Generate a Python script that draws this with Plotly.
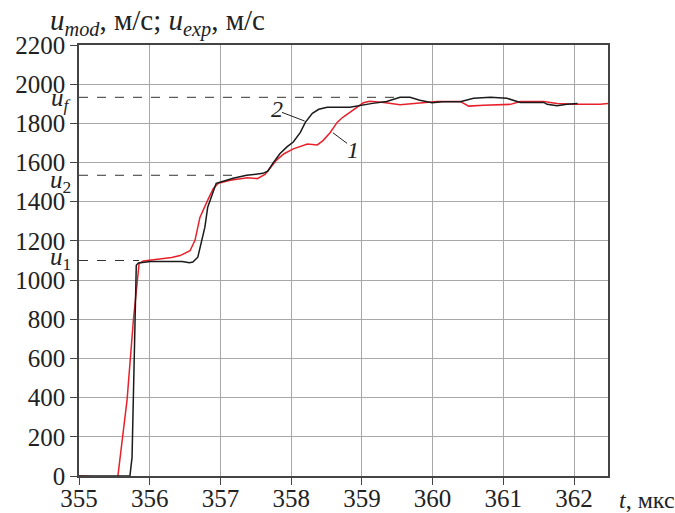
import plotly.graph_objects as go

# Model (curve 1, red)
red_t = [355.0, 355.52, 355.55, 355.68, 355.77, 355.85, 355.91, 356.11, 356.31, 356.43,
         356.57, 356.64, 356.71, 356.82, 356.90, 356.97, 357.14, 357.38, 357.52, 357.63,
         357.73, 357.80, 357.90, 358.03, 358.23, 358.37, 358.45, 358.55, 358.65, 358.73,
         358.83, 358.93, 359.02, 359.11, 359.31, 359.54, 359.68, 359.87, 360.06, 360.39,
         360.51, 360.72, 361.10, 361.24, 361.57, 361.76, 361.99, 362.37, 362.48]
red_u = [0, -10, 0, 390, 800, 1085, 1098, 1105, 1115, 1125,
         1150, 1203, 1320, 1408, 1468, 1494, 1510, 1522, 1518, 1540,
         1582, 1615, 1645, 1670, 1695, 1690, 1712, 1752, 1805, 1831,
         1856, 1882, 1905, 1913, 1907, 1895, 1900, 1908, 1912, 1912,
         1888, 1892, 1897, 1912, 1912, 1902, 1897, 1897, 1902]

# Experiment (curve 2, black)
black_t = [355.0, 355.72, 355.75, 355.77, 355.80, 355.81, 355.84, 356.01, 356.31, 356.46,
           356.56, 356.61, 356.68, 356.73, 356.78, 356.82, 356.89, 356.94, 357.04, 357.18,
           357.37, 357.60, 357.67, 357.74, 357.84, 357.94, 358.03, 358.13, 358.20, 358.30,
           358.39, 358.51, 358.83, 358.97, 359.15, 359.35, 359.54, 359.68, 359.82, 359.99,
           360.14, 360.39, 360.58, 360.82, 361.05, 361.24, 361.57, 361.62, 361.76, 361.90,
           361.99, 362.05]
black_u = [0, 0, 95, 423, 796, 1076, 1087, 1095, 1095, 1095,
           1088, 1092, 1117, 1188, 1270, 1372, 1443, 1494, 1505, 1520,
           1535, 1545, 1556, 1596, 1645, 1680, 1705, 1754, 1805, 1851,
           1872, 1882, 1882, 1892, 1902, 1912, 1933, 1933, 1918, 1905,
           1910, 1910, 1928, 1933, 1928, 1907, 1907, 1897, 1890, 1897,
           1902, 1902]

# Reference levels u1, u2, uf
level_names = ["<i>u</i><sub>1</sub>", "<i>u</i><sub>2</sub>", "<i>u</i><sub><i>f</i></sub>"]
level_vals = [1100, 1535, 1933]
level_ends = [355.85, 357.18, 359.50]
label_shift = [2, -6, -2]   # vertical nudges of the level labels, px

x_ticks = [355, 356, 357, 358, 359, 360, 361, 362]
y_ticks = list(range(0, 2201, 200))

FONT = "Liberation Serif"
TXT = "#222222"

fig = go.Figure()

for v, e in zip(level_vals, level_ends):
    fig.add_trace(go.Scatter(x=[355.0, e], y=[v, v], mode="lines",
                             line=dict(color="#333333", width=1, dash="dash"),
                             showlegend=False, hoverinfo="skip"))

fig.add_trace(go.Scatter(x=red_t, y=red_u, mode="lines",
                         line=dict(color="#e8202a", width=1.5), showlegend=False))
fig.add_trace(go.Scatter(x=black_t, y=black_u, mode="lines",
                         line=dict(color="#1a1a1a", width=1.5), showlegend=False))

# curve labels with leader lines
fig.add_shape(type="line", x0=357.87, y0=1856, x1=358.19, y1=1812,
              line=dict(color="#222", width=1))
fig.add_shape(type="line", x0=358.79, y0=1698, x1=358.59, y1=1752,
              line=dict(color="#222", width=1))
fig.add_annotation(x=357.80, y=1872, text="<i>2</i>", showarrow=False,
                   font=dict(family=FONT, size=24, color=TXT))
fig.add_annotation(x=358.88, y=1665, text="<i>1</i>", showarrow=False,
                   font=dict(family=FONT, size=24, color=TXT))

for name, v, s in zip(level_names, level_vals, label_shift):
    fig.add_annotation(x=0, xref="paper", y=v, yref="y", text=name, showarrow=False,
                       xanchor="right", yanchor="middle", xshift=-6, yshift=s,
                       font=dict(family=FONT, size=25, color=TXT))

fig.add_annotation(x=0, xref="paper", y=1, yref="paper",
                   text="<i>u</i><sub><i>mod</i></sub>, м/с; <i>u</i><sub><i>exp</i></sub>, м/с",
                   showarrow=False, xanchor="left", yanchor="bottom", xshift=-31, yshift=2,
                   font=dict(family=FONT, size=29, color=TXT))
fig.add_annotation(x=1, xref="paper", y=0, yref="paper",
                   text="<i>t</i>, мкс", showarrow=False, xanchor="left", yanchor="top",
                   xshift=9, yshift=-9, font=dict(family=FONT, size=24, color=TXT))

axis_common = dict(showgrid=True, gridcolor="#a8a8a8", gridwidth=1,
                   showline=True, linecolor="#444", linewidth=1.5, mirror=True,
                   ticks="outside", ticklen=7, tickcolor="#444", tickwidth=1,
                   zeroline=False, automargin=False,
                   tickfont=dict(family=FONT, size=25, color=TXT))
fig.update_xaxes(range=[355, 362.48], tickvals=x_ticks,
                 ticktext=[str(t) for t in x_ticks], ticklabelstandoff=-8, **axis_common)
fig.update_yaxes(range=[0, 2200], tickvals=y_ticks,
                 ticktext=[str(t) for t in y_ticks], **axis_common)

fig.update_layout(width=675, height=513, margin=dict(l=79, r=67, t=45, b=37),
                  plot_bgcolor="white", paper_bgcolor="white")

fig.write_html("out.html")
